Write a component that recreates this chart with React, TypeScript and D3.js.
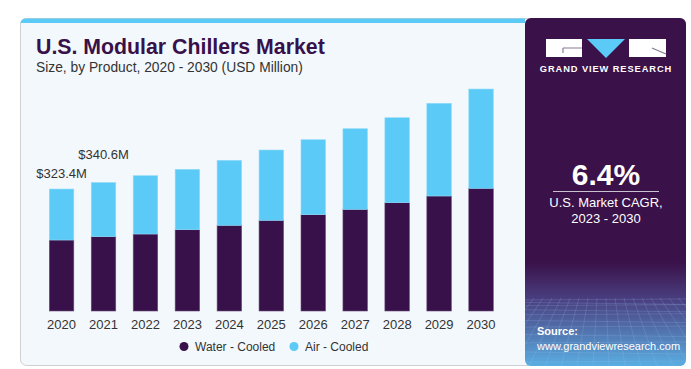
import { useRef, useEffect } from "react";
import * as d3 from "d3";

const YEARS = ["2020", "2021", "2022", "2023", "2024", "2025", "2026", "2027", "2028", "2029", "2030"];
const WATER_COOLED = [188.2, 197.0, 204.1, 215.5, 227.2, 240.4, 255.3, 269.6, 287.1, 304.9, 325.3];
const AIR_COOLED = [135.2, 143.6, 154.6, 160.1, 172.3, 186.4, 198.8, 213.7, 225.3, 245.7, 263.2];
const VALUE_LABELS = [
  { year: "2020", text: "$323.4M", lift: 11 },
  { year: "2021", text: "$340.6M", lift: 24 },
];
const SERIES = ["Water - Cooled", "Air - Cooled"];

const WIDTH = 691;
const HEIGHT = 369;
const DARK = "#38104a";
const BLUE = "#5bcaf6";
const FONT = "'Liberation Sans', Arial, sans-serif";

export default function App() {
  const svgRef = useRef<SVGSVGElement>(null);

  useEffect(() => {
    const svg = d3.select(svgRef.current);
    svg.selectAll("*").remove();

    const defs = svg.append("defs");
    const grad = defs.append("linearGradient")
      .attr("id", "panelGrad").attr("x1", 0).attr("y1", 0).attr("x2", 0).attr("y2", 1);
    grad.append("stop").attr("offset", "0%").attr("stop-color", "#3a1149");
    grad.append("stop").attr("offset", "70%").attr("stop-color", "#3a1149");
    grad.append("stop").attr("offset", "81%").attr("stop-color", "#4a3f80");
    grad.append("stop").attr("offset", "100%").attr("stop-color", "#5aaee2");
    defs.append("clipPath").attr("id", "panelClip")
      .append("rect").attr("x", 525).attr("y", 18).attr("width", 161).attr("height", 348).attr("rx", 6);

    // card
    svg.append("rect")
      .attr("x", 20.5).attr("y", 18.5).attr("width", 665).attr("height", 347)
      .attr("rx", 6).attr("fill", "#f3f8fc").attr("stroke", "#cfcfcf");
    svg.append("path")
      .attr("d", "M20.5,24 Q20.5,18.5 26,18.5 L525,18.5 L525,23 L20.5,23 Z")
      .attr("fill", BLUE);

    // right panel
    const panel = svg.append("g").attr("clip-path", "url(#panelClip)");
    panel.append("rect").attr("x", 525).attr("y", 18).attr("width", 161).attr("height", 348)
      .attr("fill", "url(#panelGrad)");
    // faint grid texture
    const grid = panel.append("g").attr("stroke", "#9fc4ee").attr("stroke-opacity", 0.28).attr("fill", "none").attr("stroke-width", 0.7);
    d3.range(0, 14).forEach((i) => {
      const yy = 300 + i * i * 0.42 + i * 2;
      grid.append("line").attr("x1", 525).attr("x2", 686).attr("y1", yy).attr("y2", yy + (i % 2 ? 2 : -1));
    });
    d3.range(-8, 20).forEach((i) => {
      const xTop = 525 + i * 9;
      const xBot = 525 + i * 16 - 60;
      grid.append("line").attr("x1", xTop).attr("y1", 298).attr("x2", xBot).attr("y2", 366);
    });

    // logo
    const logo = svg.append("g");
    logo.append("rect").attr("x", 546).attr("y", 39).attr("width", 36).attr("height", 18).attr("fill", "#fff");
    logo.append("path").attr("d", "M563,48 L582,48 M563,48 L563,53").attr("stroke", "#8a7a96").attr("stroke-width", 1.2).attr("fill", "none");
    logo.append("path").attr("d", "M587,39 L625,39 L606,58 Z").attr("fill", BLUE);
    logo.append("rect").attr("x", 629).attr("y", 39).attr("width", 37).attr("height", 18).attr("fill", "#fff");
    logo.append("path").attr("d", "M652,48 L666,54").attr("stroke", "#8a7a96").attr("stroke-width", 1.2);
    logo.append("text").attr("x", 606).attr("y", 72).attr("text-anchor", "middle")
      .attr("fill", "#fff").attr("font-family", FONT).attr("font-weight", 700)
      .attr("font-size", 9.3).attr("letter-spacing", 0.9).text("GRAND VIEW RESEARCH");

    svg.append("text").attr("x", 606).attr("y", 185).attr("text-anchor", "middle")
      .attr("fill", "#fff").attr("font-family", FONT).attr("font-weight", 700).attr("font-size", 30)
      .text("6.4%");
    svg.append("line").attr("x1", 553).attr("x2", 659).attr("y1", 191.5).attr("y2", 191.5)
      .attr("stroke", "#c9c2cf").attr("stroke-width", 1);
    svg.append("text").attr("x", 606).attr("y", 207).attr("text-anchor", "middle")
      .attr("fill", "#fff").attr("font-family", FONT).attr("font-size", 13).text("U.S. Market CAGR,");
    svg.append("text").attr("x", 606).attr("y", 223).attr("text-anchor", "middle")
      .attr("fill", "#fff").attr("font-family", FONT).attr("font-size", 13).text("2023 - 2030");
    svg.append("text").attr("x", 537).attr("y", 335)
      .attr("fill", "#fff").attr("font-family", FONT).attr("font-weight", 700).attr("font-size", 11).text("Source:");
    svg.append("text").attr("x", 537).attr("y", 350)
      .attr("fill", "#fff").attr("font-family", FONT).attr("font-size", 11).text("www.grandviewresearch.com");

    // titles
    svg.append("text").attr("x", 36).attr("y", 54)
      .attr("fill", DARK).attr("font-family", FONT).attr("font-weight", 900).attr("font-size", 21.3)
      .text("U.S. Modular Chillers Market");
    svg.append("text").attr("x", 36).attr("y", 72)
      .attr("fill", "#333").attr("font-family", FONT).attr("font-size", 13.8)
      .text("Size, by Product, 2020 - 2030 (USD Million)");

    // scales
    const x = d3.scaleBand().domain(YEARS).range([40.5, 502.1]).paddingInner(0.416).paddingOuter(0.21);
    const y = d3.scaleLinear().domain([0, 600]).range([311, 84.7]);

    const rows = YEARS.map((yr, i) => ({ year: yr, water: WATER_COOLED[i], air: AIR_COOLED[i] }));
    const stack = d3.stack<{ year: string; water: number; air: number }>().keys(["water", "air"]);
    const layers = stack(rows);
    const colors = [DARK, BLUE];

    const g = svg.append("g");
    layers.forEach((layer, li) => {
      g.append("g").selectAll("rect").data(layer).join("rect")
        .attr("x", (d) => x(d.data.year) ?? 0)
        .attr("y", (d) => y(d[1]))
        .attr("width", x.bandwidth())
        .attr("height", (d) => y(d[0]) - y(d[1]))
        .attr("fill", colors[li])
        .attr("stroke", li === 0 ? "#6a4f7a" : "#8fdbfa")
        .attr("stroke-width", 0.6);
    });

    // x axis
    const xAxis = g.append("g").attr("transform", "translate(0,311)").call(d3.axisBottom(x).tickSize(0).tickPadding(9));
    xAxis.select(".domain").remove();
    xAxis.selectAll("text").attr("fill", "#333").attr("font-family", FONT).attr("font-size", 13);

    // value labels
    const totals = new Map(rows.map((r) => [r.year, r.water + r.air]));
    g.selectAll("text.val").data(VALUE_LABELS).join("text")
      .attr("class", "val")
      .attr("x", (d) => (x(d.year) ?? 0) + x.bandwidth() / 2)
      .attr("y", (d) => y(totals.get(d.year) ?? 0) - d.lift)
      .attr("text-anchor", "middle")
      .attr("fill", "#333").attr("font-family", FONT).attr("font-size", 13)
      .text((d) => d.text);

    // legend
    const legend = svg.append("g");
    const legendX = [184, 294];
    SERIES.forEach((s, i) => {
      legend.append("circle").attr("cx", legendX[i]).attr("cy", 346.5).attr("r", 4.5).attr("fill", colors[i]);
      legend.append("text").attr("x", legendX[i] + 11).attr("y", 351)
        .attr("fill", "#333").attr("font-family", FONT).attr("font-size", 12).text(s);
    });
  }, []);

  return (
    <svg
      ref={svgRef}
      width={WIDTH}
      height={HEIGHT}
      viewBox={`0 0 ${WIDTH} ${HEIGHT}`}
      style={{ position: "absolute", left: 0, top: 0, background: "#fff" }}
    />
  );
}
